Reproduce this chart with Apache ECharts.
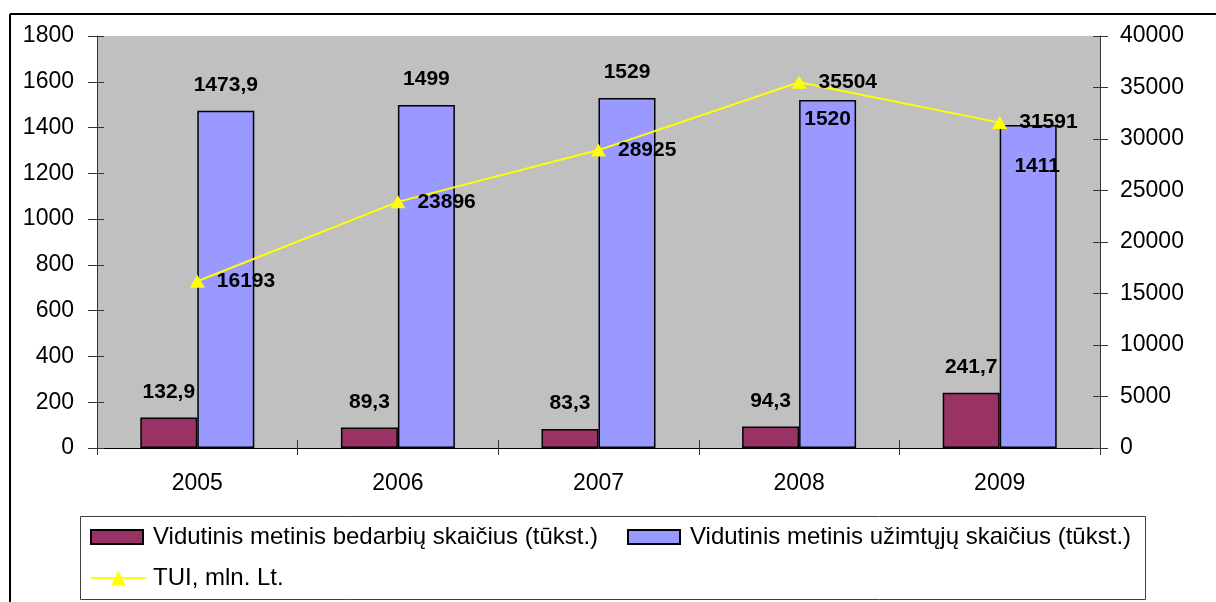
<!DOCTYPE html>
<html>
<head>
<meta charset="utf-8">
<script src="https://cdn.jsdelivr.net/npm/echarts@6/dist/echarts.min.js"></script>
<style>html,body{margin:0;padding:0;background:#fff}#c{width:1216px;height:602px}</style>
</head>
<body>
<div id="c"></div>
<script>
var years = ['2005', '2006', '2007', '2008', '2009'];
var unemployed = [132.9, 89.3, 83.3, 94.3, 241.7];
var employed = [1473.9, 1499, 1529, 1520, 1411];
var gdp = [16193, 23896, 28925, 35504, 31591];
var leftTicks = { min: 0, max: 1800, interval: 200 };
var rightTicks = { min: 0, max: 40000, interval: 5000 };
var names = ['Vidutinis metinis bedarbių skaičius (tūkst.)', 'Vidutinis metinis užimtųjų skaičius (tūkst.)', 'TUI, mln. Lt.'];

var FONT = '"Liberation Sans", Arial, sans-serif';
function comma(p) { return String(p.value).replace('.', ','); }
function plain(v) { return String(v); }
// label placement overrides for employed bars (index -> label style)
var employedLabelOverrides = {
  3: { position: 'insideTop', distance: 9 },
  4: { position: 'insideTop', distance: 31, offset: [9, 0] }
};
var employedData = employed.map(function (v, i) {
  var o = { value: v };
  if (employedLabelOverrides[i]) o.label = employedLabelOverrides[i];
  return o;
});

var labelBold = { show: true, position: 'top', distance: 15, color: '#000', fontFamily: FONT, fontWeight: 'bold', fontSize: 21, formatter: comma };
var axisText = { color: '#000', fontFamily: FONT, fontSize: 23, formatter: plain };
var tickStyle = { color: '#333', width: 1 };
var legendText = { color: '#000', fontFamily: FONT, fontSize: 24, padding: [0, 0, 0, 5] };

var chart = echarts.init(document.getElementById('c'), null, { renderer: 'canvas' });
chart.setOption({
  backgroundColor: '#fff',
  animation: false,
  grid: { left: 97, right: 116, top: 36, bottom: 154, show: true, backgroundColor: '#c0c0c0', borderWidth: 0 },
  xAxis: [
    { type: 'category', data: years, position: 'bottom',
      axisLine: { show: true, lineStyle: { color: '#000', width: 1 } },
      axisTick: { show: true, alignWithLabel: false, length: 7, lineStyle: tickStyle },
      axisLabel: Object.assign({ margin: 24 }, axisText), splitLine: { show: false } },
    { type: 'category', data: years, position: 'bottom',
      axisLine: { show: false }, axisTick: { show: true, inside: true, length: 8, lineStyle: tickStyle },
      axisLabel: { show: false }, splitLine: { show: false } }
  ],
  yAxis: [
    { type: 'value', position: 'left', min: leftTicks.min, max: leftTicks.max, interval: leftTicks.interval,
      axisLine: { show: true, lineStyle: { color: '#333', width: 1 } },
      axisTick: { show: true, length: 9, lineStyle: tickStyle },
      axisLabel: Object.assign({ margin: 23 }, axisText), splitLine: { show: false } },
    { type: 'value', position: 'right', min: rightTicks.min, max: rightTicks.max, interval: rightTicks.interval,
      axisLine: { show: true, lineStyle: { color: '#333', width: 1 } },
      axisTick: { show: true, length: 8, lineStyle: tickStyle },
      axisLabel: Object.assign({ margin: 20 }, axisText), splitLine: { show: false } },
    { type: 'value', position: 'left', min: leftTicks.min, max: leftTicks.max, interval: leftTicks.interval,
      axisLine: { show: false }, axisTick: { show: true, inside: true, length: 7, lineStyle: tickStyle },
      axisLabel: { show: false }, splitLine: { show: false } },
    { type: 'value', position: 'right', min: rightTicks.min, max: rightTicks.max, interval: rightTicks.interval,
      axisLine: { show: false }, axisTick: { show: true, inside: true, length: 7, lineStyle: tickStyle },
      axisLabel: { show: false }, splitLine: { show: false } }
  ],
  legend: [
    { data: [names[0]], left: 90, top: 525, itemWidth: 52, itemHeight: 14, padding: 0, icon: 'rect', textStyle: legendText },
    { data: [names[1]], left: 627, top: 525, itemWidth: 52, itemHeight: 14, padding: 0, icon: 'rect', textStyle: legendText },
    { data: [names[2]], left: 90, top: 566, itemWidth: 55, itemHeight: 18, padding: 0,
      textStyle: { color: '#000', fontFamily: FONT, fontSize: 24, padding: [0, 0, 0, 2] } }
  ],
  graphic: [
    { type: 'line', shape: { x1: 10, y1: 14, x2: 1216, y2: 14 }, style: { stroke: '#000', lineWidth: 2 }, silent: true },
    { type: 'line', shape: { x1: 10, y1: 14, x2: 10, y2: 602 }, style: { stroke: '#000', lineWidth: 2 }, silent: true },
    { type: 'rect', shape: { x: 80.5, y: 516.5, width: 1065, height: 83 }, style: { fill: 'none', stroke: '#404040', lineWidth: 1 }, silent: true, z: -1 }
  ],
  series: [
    { name: names[0], type: 'bar', data: unemployed, barWidth: 57, barGap: '0%',
      itemStyle: { color: '#993366', borderColor: '#000', borderWidth: 1.5 }, label: labelBold },
    { name: names[1], type: 'bar', data: employedData, barWidth: 57, barGap: '0%',
      itemStyle: { color: '#9999ff', borderColor: '#000', borderWidth: 1.5 }, label: labelBold },
    { name: names[2], type: 'line', yAxisIndex: 1, data: gdp, symbol: 'triangle', symbolSize: [15, 13],
      lineStyle: { color: '#ffff00', width: 2 }, itemStyle: { color: '#ffff00' }, z: 5,
      label: { show: true, position: 'right', distance: 12, color: '#000', fontFamily: FONT, fontWeight: 'bold', fontSize: 21 } }
  ]
});
</script>
</body>
</html>
